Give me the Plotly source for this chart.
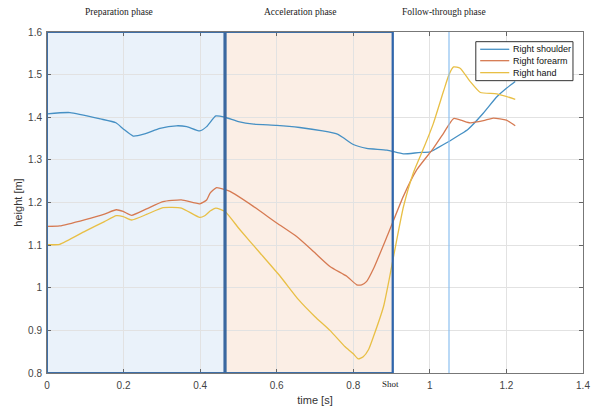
import plotly.graph_objects as go

# ---------------- data ----------------
shoulder_t = [0, 0.06, 0.14, 0.18, 0.2, 0.225, 0.255, 0.295, 0.338, 0.365, 0.399, 0.417, 0.441, 0.465,
              0.5, 0.54, 0.6, 0.66, 0.72, 0.76, 0.774, 0.8, 0.835, 0.888, 0.931, 0.97, 1.001, 1.018,
              1.053, 1.08, 1.1, 1.14, 1.175, 1.2, 1.223]
shoulder_h = [1.408, 1.411, 1.396, 1.387, 1.372, 1.356, 1.361, 1.374, 1.380, 1.378, 1.368, 1.378, 1.403, 1.400,
              1.390, 1.384, 1.381, 1.376, 1.368, 1.360, 1.352, 1.336, 1.327, 1.323, 1.314, 1.317, 1.319, 1.327,
              1.345, 1.360, 1.372, 1.410, 1.448, 1.468, 1.484]

forearm_t = [0, 0.033, 0.1, 0.15, 0.181, 0.199, 0.221, 0.26, 0.303, 0.351, 0.399, 0.417, 0.426, 0.443, 0.465,
             0.478, 0.539, 0.6, 0.652, 0.696, 0.739, 0.783, 0.809, 0.822, 0.835, 0.853, 0.888, 0.931, 0.966,
             1.009, 1.036, 1.062, 1.085, 1.105, 1.14, 1.166, 1.2, 1.223]
forearm_h = [1.144, 1.145, 1.160, 1.173, 1.183, 1.179, 1.170, 1.185, 1.202, 1.206, 1.197, 1.206, 1.222, 1.235, 1.230,
             1.226, 1.191, 1.152, 1.120, 1.085, 1.050, 1.027, 1.007, 1.007, 1.015, 1.045, 1.120, 1.215, 1.277,
             1.327, 1.363, 1.397, 1.392, 1.387, 1.392, 1.398, 1.393, 1.380]

hand_t = [0, 0.033, 0.1, 0.15, 0.181, 0.199, 0.221, 0.26, 0.303, 0.351, 0.399, 0.412, 0.426, 0.441, 0.465,
          0.504, 0.557, 0.609, 0.657, 0.70, 0.739, 0.778, 0.787, 0.80, 0.813, 0.826, 0.84, 0.853, 0.879,
          0.896, 0.913, 0.931, 0.957, 0.985, 1.009, 1.036, 1.05, 1.062, 1.079, 1.105, 1.132, 1.175, 1.223]
hand_h = [1.101, 1.102, 1.133, 1.155, 1.169, 1.167, 1.159, 1.172, 1.188, 1.187, 1.165, 1.169, 1.180, 1.187, 1.179,
          1.136, 1.081, 1.027, 0.972, 0.932, 0.900, 0.862, 0.855, 0.845, 0.833, 0.838, 0.855, 0.886, 0.956,
          1.030, 1.110, 1.190, 1.270, 1.330, 1.385, 1.462, 1.500, 1.518, 1.515, 1.484, 1.458, 1.455, 1.442]

series_names = ["Right shoulder", "Right forearm", "Right hand"]
phase_bounds = [0, 0.465, 0.903]
marker_time = 1.05
shot_time = 0.896
phase_labels = ["Preparation phase", "Acceleration phase", "Follow-through phase"]
phase_label_x = [0.1875, 0.663, 1.037]
x_ticks = [0, 0.2, 0.4, 0.6, 0.8, 1, 1.2, 1.4]
y_ticks = [0.8, 0.9, 1.0, 1.1, 1.2, 1.3, 1.4, 1.5, 1.6]

colors = ["#4690c4", "#d67a52", "#e8bf45"]

fig = go.Figure()
for t, h, name, c in zip([shoulder_t, forearm_t, hand_t], [shoulder_h, forearm_h, hand_h], series_names, colors):
    fig.add_trace(go.Scatter(x=t, y=h, mode="lines", name=name, showlegend=False,
                             line=dict(color=c, width=1.3, shape="spline", smoothing=0.5)))

# shaded phases
fig.add_shape(type="rect", xref="x", yref="y", x0=phase_bounds[0], x1=phase_bounds[1], y0=0.8, y1=1.6,
              fillcolor="#eaf2fa", line_width=0, layer="below")
fig.add_shape(type="rect", xref="x", yref="y", x0=phase_bounds[1], x1=phase_bounds[2], y0=0.8, y1=1.6,
              fillcolor="#fbeee5", line_width=0, layer="below")
# borders of the phases
fig.add_shape(type="rect", xref="x", yref="y", x0=phase_bounds[0], x1=phase_bounds[2], y0=0.8, y1=1.6,
              fillcolor="rgba(0,0,0,0)", line=dict(color="#3f6fa6", width=2), layer="above")
fig.add_shape(type="line", xref="x", yref="y", x0=phase_bounds[1], x1=phase_bounds[1], y0=0.8, y1=1.6,
              line=dict(color="#3a68a0", width=3.2), layer="above")
fig.add_shape(type="line", xref="x", yref="y", x0=phase_bounds[2], x1=phase_bounds[2], y0=0.8, y1=1.6,
              line=dict(color="#2f65ad", width=1.8), layer="above")
fig.add_shape(type="line", xref="x", yref="y", x0=marker_time, x1=marker_time, y0=0.8, y1=1.6,
              line=dict(color="#8cc0f0", width=1.2), layer="above")

for lbl, xc in zip(phase_labels, phase_label_x):
    fig.add_annotation(x=xc, xref="x", y=1.0586, yref="paper", text=lbl, showarrow=False,
                       font=dict(family="Liberation Serif", size=9.5, color="#222"), yanchor="middle")
fig.add_annotation(x=shot_time, xref="x", y=-0.032, yref="paper", text="Shot", showarrow=False,
                   font=dict(family="Liberation Serif", size=9, color="#222"), yanchor="middle")

# legend box (drawn in paper coordinates, MATLAB style)
leg_x0, leg_x1, leg_y0, leg_y1 = 0.800, 0.9813, 0.8573, 0.9716
leg_rows = [0.9493, 0.9159, 0.8808]
fig.add_shape(type="rect", xref="paper", yref="paper", x0=leg_x0, x1=leg_x1, y0=leg_y0, y1=leg_y1,
              fillcolor="white", line=dict(color="#333", width=1), layer="above")
for name, c, ry in zip(series_names, colors, leg_rows):
    fig.add_shape(type="line", xref="paper", yref="paper", x0=0.8082, x1=0.8624, y0=ry, y1=ry,
                  line=dict(color=c, width=1.3), layer="above")
    fig.add_annotation(x=0.865, xref="paper", y=ry, yref="paper", text=name, showarrow=False,
                       xanchor="left", yanchor="middle",
                       font=dict(family="Liberation Sans", size=9, color="#111"))

axis_common = dict(showgrid=True, gridcolor="#e2e2e2", gridwidth=1, zeroline=False,
                   showline=True, linecolor="#777", linewidth=1, mirror="ticks",
                   ticks="inside", ticklen=4, tickcolor="#666", automargin=False,
                   ticklabeloverflow="allow",
                   tickfont=dict(family="Liberation Sans", size=10, color="#444"))

fig.update_xaxes(range=[0, 1.4], tickvals=x_ticks, ticktext=[f"{v:g}" for v in x_ticks],
                 ticklabelstandoff=3,
                 title=dict(text="time [s]", font=dict(family="Liberation Sans", size=11, color="#333"), standoff=6),
                 **axis_common)
fig.update_yaxes(range=[0.8, 1.6], tickvals=y_ticks, ticktext=[f"{v:g}" for v in y_ticks],
                 ticklabelstandoff=2,
                 title=dict(text="height [m]", font=dict(family="Liberation Sans", size=11, color="#333"), standoff=3),
                 **axis_common)

fig.update_layout(
    width=591, height=410,
    margin=dict(l=47, r=8, t=32, b=37),
    paper_bgcolor="white", plot_bgcolor="white",
    font=dict(family="Liberation Sans"),
    showlegend=False,
    hovermode=False,
)

# remove the default page margin so the figure fills the window exactly
fig.write_html("out.html",
               config={"displayModeBar": False, "staticPlot": True},
               post_script="document.body.style.margin='0';"
                           "document.documentElement.style.overflow='hidden';")
